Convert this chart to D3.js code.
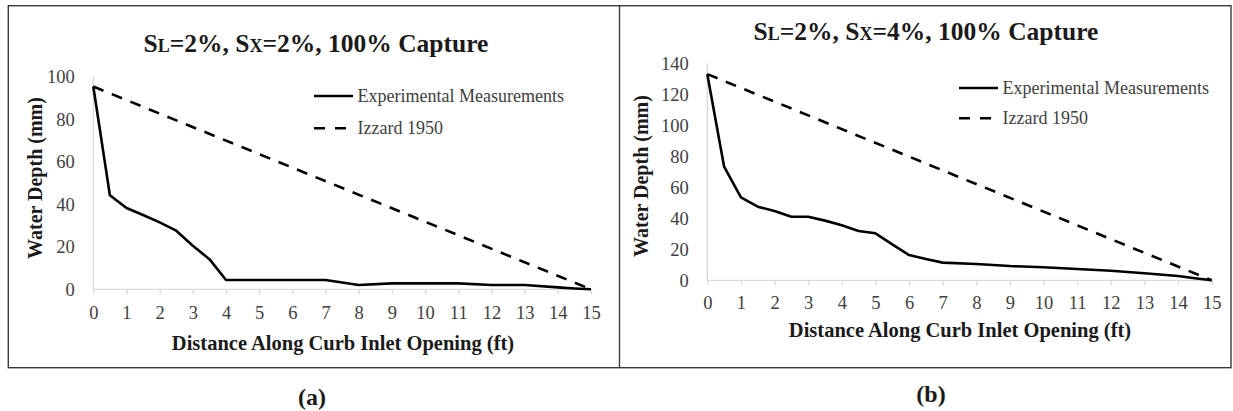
<!DOCTYPE html>
<html>
<head>
<meta charset="utf-8">
<script src="https://cdn.jsdelivr.net/npm/d3@7"></script>
<style>
  html, body { margin: 0; padding: 0; background: #fff; }
  svg { display: block; }
  svg text { font-family: "Liberation Serif", "Times New Roman", Times, serif !important; }
</style>
</head>
<body>
<svg id="chart" width="1233" height="411"></svg>
<script>
// Distance along the curb inlet opening (ft) and measured water depth (mm)
const xTicks = [0, 1, 2, 3, 4, 5, 6, 7, 8, 9, 10, 11, 12, 13, 14, 15];

// Panel (a): SL = 2%, Sx = 2%
const yTicksA = [0, 20, 40, 60, 80, 100];
const distA = [0, 0.5, 1, 1.5, 2, 2.5, 3, 3.5, 4, 5, 6, 7, 8, 9, 10, 11, 12, 13, 14, 14.5, 15];
const expA  = [95.5, 44.3, 38.3, 35, 31.5, 27.6, 20.5, 14.2, 4.4, 4.4, 4.4, 4.4, 2.0, 2.8, 2.8, 2.8, 2.0, 2.0, 0.9, 0.4, 0];
const izzDistA = [0, 15];
const izzA  = [95.5, 0];

// Panel (b): SL = 2%, Sx = 4%
const yTicksB = [0, 20, 40, 60, 80, 100, 120, 140];
const distB = [0, 0.5, 1, 1.5, 2, 2.5, 3, 3.5, 4, 4.5, 5, 5.5, 6, 6.5, 7, 8, 9, 10, 11, 12, 13, 14, 14.5, 15];
const expB  = [133, 73.3, 53.5, 47.5, 44.7, 41, 41, 38.5, 35.5, 31.8, 30.3, 23.2, 16.3, 13.7, 11.4, 10.5, 9.2, 8.4, 7.3, 6.2, 4.5, 2.8, 1.3, 0];
const izzDistB = [0, 15];
const izzB  = [133, 0];

const seriesNames = ["Experimental Measurements", "Izzard 1950"];
const xAxisTitle = "Distance Along Curb Inlet Opening (ft)";
const yAxisTitle = "Water Depth (mm)";

const SERIF = "'Liberation Serif', 'Times New Roman', Times, serif";
const svg = d3.select("#chart").attr("font-family", SERIF);

// Outer frame with the divider between the two panels
svg.append("rect")
  .attr("x", 8.3).attr("y", 5.7)
  .attr("width", 1231 - 8.3).attr("height", 367.7 - 5.7)
  .attr("fill", "none").attr("stroke", "#3a3a3a").attr("stroke-width", 1.4);
svg.append("line")
  .attr("x1", 619.5).attr("x2", 619.5).attr("y1", 5.7).attr("y2", 367.7)
  .attr("stroke", "#3a3a3a").attr("stroke-width", 1.4);

function drawPanel(p) {
  const g = svg.append("g").attr("font-family", SERIF);
  const x = d3.scaleLinear().domain([0, 15]).range([p.left, p.right]);
  const y = d3.scaleLinear().domain([0, p.yMax]).range([p.bottom, p.top]);

  // Title with small-capital subscripts
  const t = g.append("text")
    .attr("x", p.cx).attr("y", p.titleY)
    .attr("text-anchor", "middle")
    .attr("font-weight", "bold").attr("font-size", 25.5).attr("fill", "#1a1a1a");
  t.append("tspan").text("S");
  t.append("tspan").attr("font-size", 18).text("L");
  t.append("tspan").text("=" + p.sl + ", S");
  t.append("tspan").attr("font-size", 18).text("X");
  t.append("tspan").text("=" + p.sx + ", 100% Capture");

  // Axes
  const xAxis = g.append("g")
    .attr("transform", `translate(0,${p.bottom})`)
    .call(d3.axisBottom(x).tickValues(xTicks).tickSize(5).tickPadding(p.xPad).tickFormat(d3.format("d")));
  const yAxis = g.append("g")
    .attr("transform", `translate(${p.left},0)`)
    .call(d3.axisLeft(y).tickValues(p.yTicks).tickSize(0).tickPadding(18.5).tickFormat(d3.format("d")));
  [xAxis, yAxis].forEach(a => {
    a.attr("font-family", SERIF).attr("font-size", 18.5);
    a.select(".domain").attr("stroke", "#d9d9d9").attr("stroke-width", 1.3);
    a.selectAll(".tick line").attr("stroke", "#d9d9d9").attr("stroke-width", 1.3);
    a.selectAll(".tick text").attr("fill", "#404040");
  });
  xAxis.select(".domain").attr("d", `M${p.left},0H${p.right}`);
  yAxis.select(".domain").attr("d", `M0,${p.bottom}V${p.top - 0.5}`);

  // Axis titles
  g.append("text")
    .attr("x", p.xtX).attr("y", p.xtY)
    .attr("text-anchor", "middle").attr("dominant-baseline", "central")
    .attr("font-weight", "bold").attr("font-size", 20.5).attr("fill", "#1a1a1a")
    .text(xAxisTitle);
  g.append("text")
    .attr("transform", `translate(${p.ytX},${p.ytY}) rotate(-90)`)
    .attr("text-anchor", "middle").attr("dominant-baseline", "central")
    .attr("font-weight", "bold").attr("font-size", 20).attr("fill", "#1a1a1a")
    .text(yAxisTitle);

  // Data lines
  const line = d3.line().x(d => x(d[0])).y(d => y(d[1]));
  g.append("path")
    .datum(p.izzX.map((d, i) => [d, p.izz[i]]))
    .attr("d", line).attr("fill", "none")
    .attr("stroke", "#000").attr("stroke-width", 2.6)
    .attr("stroke-dasharray", "11,9");
  g.append("path")
    .datum(p.expX.map((d, i) => [d, p.exp[i]]))
    .attr("d", line).attr("fill", "none")
    .attr("stroke", "#000").attr("stroke-width", 2.6)
    .attr("stroke-linejoin", "round");

  // Legend
  const lg = g.append("g").attr("transform", `translate(${p.legX},${p.legY})`);
  lg.append("line").attr("x1", 0).attr("x2", 39).attr("y1", 0).attr("y2", 0)
    .attr("stroke", "#000").attr("stroke-width", 2.6);
  lg.append("line").attr("x1", 0).attr("x2", 39).attr("y1", p.legGap).attr("y2", p.legGap)
    .attr("stroke", "#000").attr("stroke-width", 2.6).attr("stroke-dasharray", "11,10");
  lg.selectAll("text.leg").data(seriesNames).join("text")
    .attr("class", "leg")
    .attr("x", 43.5).attr("y", (d, i) => i * p.legGap)
    .attr("dominant-baseline", "central")
    .attr("font-size", 18).attr("fill", "#404040")
    .text(d => d);

  // Panel caption
  g.append("text")
    .attr("x", p.capX).attr("y", p.capY)
    .attr("text-anchor", "middle").attr("dominant-baseline", "central")
    .attr("font-weight", "bold").attr("font-size", 24).attr("fill", "#1a1a1a")
    .text(p.caption);
}

drawPanel({
  left: 93.3, right: 591, top: 77, bottom: 289.3, yMax: 100, yTicks: yTicksA,
  cx: 316, titleY: 52, sl: "2%", sx: "2%", xPad: 12,
  xtX: 343, xtY: 343, ytX: 35, ytY: 178,
  expX: distA, exp: expA, izzX: izzDistA, izz: izzA,
  legX: 314, legY: 96, legGap: 32.3,
  capX: 312, capY: 397, caption: "(a)"
});

drawPanel({
  left: 707.3, right: 1211.7, top: 63.3, bottom: 280.3, yMax: 140, yTicks: yTicksB,
  cx: 926, titleY: 40, sl: "2%", sx: "4%", xPad: 11,
  xtX: 960, xtY: 330, ytX: 641, ytY: 176,
  expX: distB, exp: expB, izzX: izzDistB, izz: izzB,
  legX: 959, legY: 88, legGap: 30.3,
  capX: 931, capY: 394, caption: "(b)"
});
</script>
</body>
</html>
